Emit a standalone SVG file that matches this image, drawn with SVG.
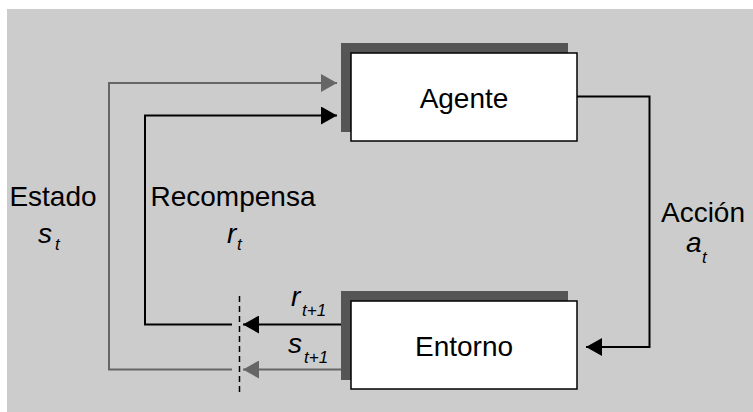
<svg xmlns="http://www.w3.org/2000/svg" width="753" height="412" viewBox="0 0 753 412">
  <defs>
    <style>
      .bg { fill: #cccccc; }
      .shadow { fill: #555555; }
      .box { fill: #ffffff; stroke: #000000; stroke-width: 1.5; }
      .lbl { font-family: "Liberation Sans", Arial, sans-serif; font-size: 28px; fill: #000000; }
      .mid { text-anchor: middle; }
      .math { font-family: "Liberation Sans", Arial, sans-serif; font-style: italic; font-size: 28px; fill: #000000; }
      .sub { font-family: "Liberation Sans", Arial, sans-serif; font-style: italic; font-size: 17px; fill: #000000; }
      .black { fill: none; stroke: #000000; stroke-width: 2; }
      .gray { fill: none; stroke: #666666; stroke-width: 2; }
      .dash { fill: none; stroke: #000000; stroke-width: 1.5; stroke-dasharray: 6 4; }
    </style>
    <marker id="arrB" viewBox="0 0 16 18" refX="16" refY="9" markerWidth="16" markerHeight="18" markerUnits="userSpaceOnUse" orient="auto">
      <path d="M0,0 L16,9 L0,18 z" fill="#000000"/>
    </marker>
    <marker id="arrG" viewBox="0 0 16 18" refX="16" refY="9" markerWidth="16" markerHeight="18" markerUnits="userSpaceOnUse" orient="auto">
      <path d="M0,0 L16,9 L0,18 z" fill="#666666"/>
    </marker>
  </defs>

  <rect class="bg" x="7" y="9" width="746" height="403"/>

  <g id="connectors">
    <path class="gray" d="M341,369.5 L243,369.5" marker-end="url(#arrG)"/>
    <path class="gray" d="M232,369.5 L109,369.5 L109,83 L337,83" marker-end="url(#arrG)"/>
    <path class="black" d="M341,324.5 L243,324.5" marker-end="url(#arrB)"/>
    <path class="black" d="M232,324.5 L145,324.5 L145,115.5 L337,115.5" marker-end="url(#arrB)"/>
    <path class="black" d="M577,96.5 L649.5,96.5 L649.5,347 L586,347" marker-end="url(#arrB)"/>
    <path class="dash" d="M239.5,296 L239.5,396"/>
  </g>

  <g id="agente">
    <rect class="shadow" x="341" y="43" width="227" height="89"/>
    <rect class="box" x="351" y="53" width="226" height="88"/>
    <text class="lbl mid" x="464" y="108">Agente</text>
  </g>

  <g id="entorno">
    <rect class="shadow" x="341" y="291" width="227" height="89"/>
    <rect class="box" x="351" y="301" width="226" height="88"/>
    <text class="lbl mid" x="464" y="356">Entorno</text>
  </g>

  <g id="labels">
    <text class="lbl mid" x="53" y="206">Estado</text>
    <text class="math" x="38" y="243">s</text>
    <text class="sub" x="55" y="250">t</text>

    <text class="lbl mid" x="233" y="206">Recompensa</text>
    <text class="math" x="227" y="243">r</text>
    <text class="sub" x="237" y="250">t</text>

    <text class="lbl mid" x="703" y="222">Acción</text>
    <text class="math" x="686" y="252">a</text>
    <text class="sub" x="702" y="263">t</text>

    <text class="math" x="291" y="306">r</text>
    <text class="sub" x="302" y="316">t+1</text>

    <text class="math" x="288" y="353">s</text>
    <text class="sub" x="304" y="363">t+1</text>
  </g>
</svg>
